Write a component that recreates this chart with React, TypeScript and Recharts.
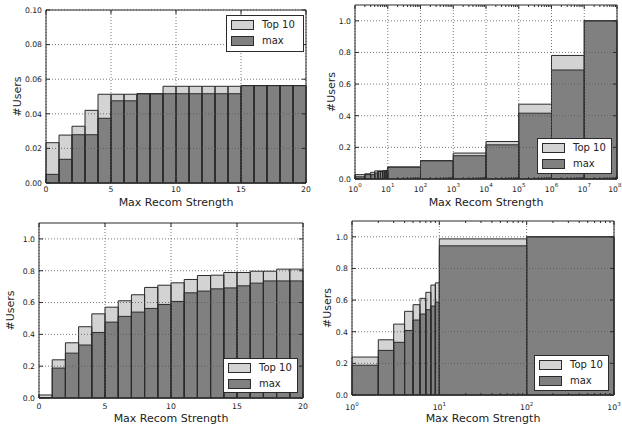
import React from 'react'
import { ComposedChart, Area, XAxis, YAxis, ReferenceArea, ReferenceLine } from 'recharts'

const FONT = "'DejaVu Sans', sans-serif"
const LIGHT = '#d3d3d3'
const DARK = '#808080'
const EDGE = '#2b2b2b'
const TEXT = '#222'
const GRID = '#555'

// top left: linear bins 0..20
const tlEdges = [0, 1, 2, 3, 4, 5, 6, 7, 8, 9, 10, 11, 12, 13, 14, 15, 16, 17, 18, 19, 20]
const tlTop10 = [0.0233, 0.0277, 0.0328, 0.042, 0.0513, 0.0513, 0.0513, 0.0516, 0.0516, 0.0559, 0.0559, 0.0559, 0.0559, 0.0559, 0.0559, 0.0563, 0.0563, 0.0563, 0.0563, 0.0563]
const tlMax = [0.005, 0.0137, 0.0279, 0.0279, 0.0374, 0.0475, 0.0475, 0.0516, 0.0516, 0.0516, 0.0516, 0.0516, 0.0516, 0.0516, 0.0516, 0.0563, 0.0563, 0.0563, 0.0563, 0.0563]
const tlXTicks = [0, 5, 10, 15, 20]
const tlYTicks = [0, 0.02, 0.04, 0.06, 0.08, 0.1]

// top right: log bins 1..1e8
const trEdges = [1, 2, 3, 4, 5, 6, 7, 8, 9, 10, 1e2, 1e3, 1e4, 1e5, 1e6, 1e7, 1e8]
const trTop10 = [0.0277, 0.0328, 0.042, 0.0513, 0.0513, 0.0513, 0.0516, 0.0516, 0.0559, 0.0756, 0.1155, 0.164, 0.237, 0.473, 0.781, 1.0]
const trMax = [0.0137, 0.0279, 0.0279, 0.0374, 0.0475, 0.0475, 0.0516, 0.0516, 0.0516, 0.0756, 0.1155, 0.147, 0.216, 0.416, 0.689, 1.0]
const trXTicks = [1, 1e1, 1e2, 1e3, 1e4, 1e5, 1e6, 1e7, 1e8]
const trXMinor = [
  2, 3, 4, 5, 6, 7, 8, 9,
  20, 30, 40, 50, 60, 70, 80, 90,
  200, 300, 400, 500, 600, 700, 800, 900,
  2e3, 3e3, 4e3, 5e3, 6e3, 7e3, 8e3, 9e3,
  2e4, 3e4, 4e4, 5e4, 6e4, 7e4, 8e4, 9e4,
  2e5, 3e5, 4e5, 5e5, 6e5, 7e5, 8e5, 9e5,
  2e6, 3e6, 4e6, 5e6, 6e6, 7e6, 8e6, 9e6,
  2e7, 3e7, 4e7, 5e7, 6e7, 7e7, 8e7, 9e7,
]

// bottom left: linear bins 0..20
const blEdges = [0, 1, 2, 3, 4, 5, 6, 7, 8, 9, 10, 11, 12, 13, 14, 15, 16, 17, 18, 19, 20]
const blTop10 = [0.019, 0.24, 0.347, 0.448, 0.529, 0.571, 0.611, 0.649, 0.695, 0.709, 0.724, 0.745, 0.77, 0.772, 0.789, 0.789, 0.797, 0.797, 0.81, 0.81]
const blMax = [0.003, 0.188, 0.282, 0.333, 0.412, 0.477, 0.513, 0.54, 0.563, 0.588, 0.607, 0.661, 0.672, 0.686, 0.692, 0.705, 0.722, 0.736, 0.736, 0.736]
const blXTicks = [0, 5, 10, 15, 20]

// bottom right: log bins 1..1000
const brEdges = [1, 2, 3, 4, 5, 6, 7, 8, 9, 10, 100, 1000]
const brTop10 = [0.24, 0.349, 0.448, 0.529, 0.571, 0.611, 0.649, 0.695, 0.709, 0.987, 1.0]
const brMax = [0.188, 0.282, 0.333, 0.408, 0.474, 0.512, 0.539, 0.562, 0.587, 0.943, 1.0]
const brXTicks = [1, 10, 100, 1000]
const brXMinor = [2, 3, 4, 5, 6, 7, 8, 9, 20, 30, 40, 50, 60, 70, 80, 90, 200, 300, 400, 500, 600, 700, 800, 900]

const unitYTicks = [0, 0.2, 0.4, 0.6, 0.8, 1.0]

interface PanelProps {
  left: number
  top: number
  width: number
  height: number
  marginTop: number
  marginRight: number
  yAxisWidth: number
  xAxisHeight: number
  log: boolean
  xDomain: [number, number]
  xTicks: number[]
  xMinor?: number[]
  yDomain: [number, number]
  yTicks: number[]
  yDigits: number
  edges: number[]
  top10: number[]
  max: number[]
  tickGap: number
  xLabelOffset: number
  yLabelOffset: number
  legend: { left: number; top: number; width: number; height: number }
}

const Legend: React.FC<{ box: PanelProps['legend'] }> = ({ box }) => {
  const row = (color: string, label: string, cy: number) => (
    <div style={{ position: 'absolute', left: 4, top: cy - 5, height: 10, display: 'flex', alignItems: 'center' }}>
      <div style={{ width: 21, height: 8, background: color, border: `1px solid ${EDGE}` }} />
      <span style={{ marginLeft: 8, fontSize: 10, lineHeight: '10px', fontFamily: FONT, color: TEXT, whiteSpace: 'nowrap' }}>{label}</span>
    </div>
  )
  return (
    <div
      style={{
        position: 'absolute',
        left: box.left,
        top: box.top,
        width: box.width,
        height: box.height,
        boxSizing: 'border-box',
        border: `1px solid ${EDGE}`,
        background: '#fff',
      }}
    >
      {row(LIGHT, 'Top 10', 9)}
      {row(DARK, 'max', 25)}
    </div>
  )
}

const Panel: React.FC<PanelProps> = (p) => {
  const plotTop = p.marginTop
  const plotRight = p.width - p.marginRight
  const allXTicks = p.xMinor ? [...p.xTicks, ...p.xMinor] : p.xTicks
  const n = p.top10.length
  // step rows: each bin starts at its left edge, last edge repeats the last bin
  const rows = p.edges.map((x, i) => ({
    x,
    top10: p.top10[Math.min(i, n - 1)],
    max: p.max[Math.min(i, n - 1)],
  }))

  const XTick = (t: any) => {
    const v = t.payload.value
    const major = p.xTicks.includes(v)
    const len = major ? 4 : 2
    // keep the last log label inside the page edge
    const overflow = p.log && t.x + 7 > p.width
    return (
      <g>
        <line x1={t.x} x2={t.x} y1={t.y} y2={t.y - len} stroke={EDGE} />
        <line x1={t.x} x2={t.x} y1={plotTop} y2={plotTop + len} stroke={EDGE} />
        {major &&
          (p.log ? (
            <text
              x={overflow ? p.width - 0.5 : t.x}
              y={t.y + p.tickGap}
              textAnchor={overflow ? 'end' : 'middle'}
              fontSize={7.7}
              fill={TEXT}
              fontFamily={FONT}
            >
              10
              <tspan dy={-4.5} fontSize={5.5}>
                {Math.round(Math.log10(v))}
              </tspan>
            </text>
          ) : (
            <text x={t.x} y={t.y + p.tickGap} textAnchor="middle" fontSize={7.7} fill={TEXT} fontFamily={FONT}>
              {v}
            </text>
          ))}
      </g>
    )
  }

  const YTick = (t: any) => (
    <g>
      <line x1={t.x} x2={t.x + 4} y1={t.y} y2={t.y} stroke={EDGE} />
      <line x1={plotRight} x2={plotRight - 4} y1={t.y} y2={t.y} stroke={EDGE} />
      <text x={t.x - 4} y={t.y + 2.8} textAnchor="end" fontSize={7.7} fill={TEXT} fontFamily={FONT}>
        {Number(t.payload.value).toFixed(p.yDigits)}
      </text>
    </g>
  )

  return (
    <div style={{ position: 'absolute', left: p.left, top: p.top, width: p.width, height: p.height }}>
      <ComposedChart
        width={p.width}
        height={p.height}
        data={rows}
        margin={{ top: p.marginTop, right: p.marginRight, bottom: 0, left: 0 }}
      >
        <Area
          dataKey="top10"
          type="stepAfter"
          fill={LIGHT}
          fillOpacity={1}
          stroke="none"
          baseValue={0}
          dot={false}
          activeDot={false}
          isAnimationActive={false}
        />
        <Area
          dataKey="max"
          type="stepAfter"
          fill={DARK}
          fillOpacity={1}
          stroke="none"
          baseValue={0}
          dot={false}
          activeDot={false}
          isAnimationActive={false}
        />
        {p.top10.map((v, i) => (
          <ReferenceArea
            key={`t-${i}`}
            x1={p.edges[i]}
            x2={p.edges[i + 1]}
            y1={0}
            y2={v}
            fill="none"
            fillOpacity={0}
            stroke={EDGE}
            strokeWidth={1}
            ifOverflow="visible"
            zIndex={300}
          />
        ))}
        {p.max.map((v, i) => (
          <ReferenceArea
            key={`m-${i}`}
            x1={p.edges[i]}
            x2={p.edges[i + 1]}
            y1={0}
            y2={v}
            fill="none"
            fillOpacity={0}
            stroke={EDGE}
            strokeWidth={1}
            ifOverflow="visible"
            zIndex={300}
          />
        ))}
        {p.xTicks.map((v) => (
          <ReferenceLine key={`gx-${v}`} x={v} stroke={GRID} strokeDasharray="1 2" strokeWidth={0.8} zIndex={400} />
        ))}
        {p.yTicks.map((v) => (
          <ReferenceLine key={`gy-${v}`} y={v} stroke={GRID} strokeDasharray="1 2" strokeWidth={0.8} zIndex={400} />
        ))}
        <ReferenceArea
          x1={p.xDomain[0]}
          x2={p.xDomain[1]}
          y1={p.yDomain[0]}
          y2={p.yDomain[1]}
          fill="none"
          fillOpacity={0}
          stroke={EDGE}
          strokeWidth={1}
          ifOverflow="visible"
          zIndex={450}
        />
        <XAxis
          dataKey="x"
          type="number"
          scale={p.log ? 'log' : 'linear'}
          domain={p.xDomain}
          allowDataOverflow
          ticks={allXTicks}
          interval={0}
          height={p.xAxisHeight}
          axisLine={false}
          tickLine={false}
          tickSize={0}
          tickMargin={0}
          tick={XTick}
          label={{
            value: 'Max Recom Strength',
            position: 'insideBottom',
            offset: p.xLabelOffset,
            fontSize: 11,
            fill: TEXT,
            style: { fontSize: 11, fontFamily: FONT, fill: TEXT },
          }}
        />
        <YAxis
          type="number"
          domain={p.yDomain}
          allowDataOverflow
          ticks={p.yTicks}
          interval={0}
          width={p.yAxisWidth}
          axisLine={false}
          tickLine={false}
          tickSize={0}
          tickMargin={0}
          tick={YTick}
          label={{
            value: '#Users',
            angle: -90,
            position: 'insideLeft',
            offset: p.yLabelOffset,
            fontSize: 11,
            fill: TEXT,
            style: { textAnchor: 'middle', fontSize: 11, fontFamily: FONT, fill: TEXT },
          }}
        />
      </ComposedChart>
      <Legend box={p.legend} />
    </div>
  )
}

export default function App() {
  return (
    <div style={{ position: 'absolute', left: 0, top: 0, width: 622, height: 425, background: '#fff', overflow: 'hidden' }}>
      <Panel
        left={0}
        top={0}
        width={311}
        height={212}
        marginTop={10}
        marginRight={5}
        yAxisWidth={46}
        xAxisHeight={29}
        log={false}
        xDomain={[0, 20]}
        xTicks={tlXTicks}
        yDomain={[0, 0.1]}
        yTicks={tlYTicks}
        yDigits={2}
        edges={tlEdges}
        top10={tlTop10}
        max={tlMax}
        tickGap={9}
        xLabelOffset={6.3}
        yLabelOffset={16.7}
        legend={{ left: 226, top: 15, width: 78, height: 37 }}
      />
      <Panel
        left={311}
        top={0}
        width={311}
        height={212}
        marginTop={5}
        marginRight={5}
        yAxisWidth={44}
        xAxisHeight={33}
        log
        xDomain={[1, 1e8]}
        xTicks={trXTicks}
        xMinor={trXMinor}
        yDomain={[0, 1.1]}
        yTicks={unitYTicks}
        yDigits={1}
        edges={trEdges}
        top10={trTop10}
        max={trMax}
        tickGap={12.7}
        xLabelOffset={6.3}
        yLabelOffset={20}
        legend={{ left: 226, top: 138, width: 75, height: 36 }}
      />
      <Panel
        left={0}
        top={212}
        width={311}
        height={213}
        marginTop={11}
        marginRight={8}
        yAxisWidth={39}
        xAxisHeight={27}
        log={false}
        xDomain={[0, 20]}
        xTicks={blXTicks}
        yDomain={[0, 1.1]}
        yTicks={unitYTicks}
        yDigits={1}
        edges={blEdges}
        top10={blTop10}
        max={blMax}
        tickGap={10.7}
        xLabelOffset={3}
        yLabelOffset={10}
        legend={{ left: 223, top: 146, width: 75, height: 35 }}
      />
      <Panel
        left={311}
        top={212}
        width={311}
        height={213}
        marginTop={9}
        marginRight={8}
        yAxisWidth={41}
        xAxisHeight={30}
        log
        xDomain={[1, 1000]}
        xTicks={brXTicks}
        xMinor={brXMinor}
        yDomain={[0, 1.1]}
        yTicks={unitYTicks}
        yDigits={1}
        edges={brEdges}
        top10={brTop10}
        max={brMax}
        tickGap={15}
        xLabelOffset={3}
        yLabelOffset={16}
        legend={{ left: 223, top: 143, width: 75, height: 36 }}
      />
    </div>
  )
}
